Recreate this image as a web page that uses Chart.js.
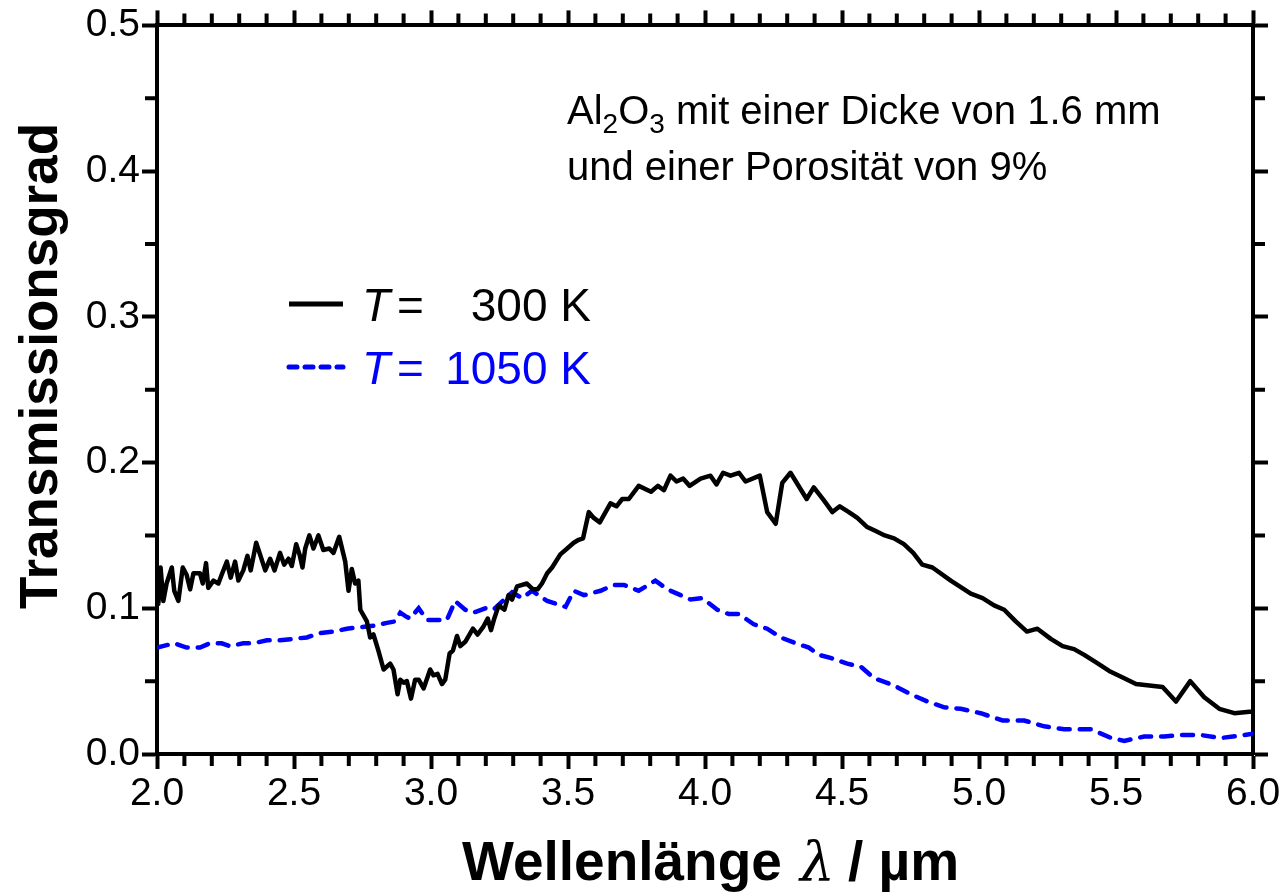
<!DOCTYPE html>
<html>
<head>
<meta charset="utf-8">
<script src="https://cdn.jsdelivr.net/npm/chart.js@4.4.1/dist/chart.umd.min.js"></script>
<style>
  body { margin: 0; background: #fff; }
</style>
</head>
<body>
<canvas id="transChart" width="1284" height="896"></canvas>
<script>
// Wellenlaenge in um, Transmissionsgrad
var wl300 = [2.000, 2.005, 2.013, 2.023, 2.035, 2.054, 2.063, 2.078, 2.094, 2.108, 2.121, 2.133, 2.157, 2.167, 2.179, 2.187,
  2.206, 2.224, 2.236, 2.255, 2.269, 2.285, 2.297, 2.315, 2.330, 2.342, 2.362, 2.376, 2.395, 2.413, 2.429, 2.449,
  2.464, 2.480, 2.492, 2.508, 2.520, 2.531, 2.541, 2.556, 2.571, 2.589, 2.607, 2.629, 2.644, 2.665, 2.687, 2.699,
  2.711, 2.723, 2.735, 2.742, 2.766, 2.778, 2.790, 2.808, 2.827, 2.851, 2.863, 2.878, 2.888, 2.900, 2.912, 2.927,
  2.942, 2.955, 2.973, 2.997, 3.009, 3.024, 3.040, 3.052, 3.068, 3.080, 3.095, 3.107, 3.125, 3.153, 3.170, 3.190,
  3.207, 3.219, 3.231, 3.247, 3.268, 3.283, 3.296, 3.314, 3.350, 3.372, 3.389, 3.405, 3.424, 3.442, 3.472, 3.497,
  3.521, 3.539, 3.555, 3.576, 3.594, 3.616, 3.655, 3.677, 3.698, 3.722, 3.758, 3.803, 3.828, 3.850, 3.874, 3.896,
  3.920, 3.944, 3.984, 4.020, 4.042, 4.066, 4.093, 4.124, 4.148, 4.200, 4.227, 4.258, 4.282, 4.312, 4.371, 4.397,
  4.434, 4.465, 4.492, 4.525, 4.556, 4.590, 4.623, 4.656, 4.690, 4.726, 4.760, 4.793, 4.830, 4.897, 4.970, 5.013,
  5.055, 5.092, 5.134, 5.175, 5.213, 5.262, 5.305, 5.347, 5.384, 5.426, 5.475, 5.530, 5.573, 5.670, 5.719, 5.771,
  5.822, 5.877, 5.932, 5.987, 6.000];
var t300 = [0.122, 0.103, 0.128, 0.105, 0.117, 0.128, 0.112, 0.105, 0.128, 0.123, 0.113, 0.124, 0.124, 0.117, 0.131, 0.114,
  0.119, 0.117, 0.123, 0.132, 0.121, 0.132, 0.119, 0.126, 0.136, 0.126, 0.145, 0.137, 0.126, 0.134, 0.126, 0.138,
  0.130, 0.134, 0.129, 0.144, 0.137, 0.128, 0.141, 0.150, 0.141, 0.150, 0.140, 0.141, 0.138, 0.149, 0.132, 0.112,
  0.127, 0.117, 0.119, 0.099, 0.091, 0.080, 0.082, 0.071, 0.058, 0.062, 0.058, 0.041, 0.051, 0.049, 0.050, 0.038,
  0.051, 0.051, 0.045, 0.058, 0.054, 0.055, 0.048, 0.051, 0.069, 0.071, 0.081, 0.074, 0.077, 0.086, 0.082, 0.087,
  0.093, 0.085, 0.093, 0.102, 0.099, 0.109, 0.106, 0.115, 0.117, 0.113, 0.113, 0.117, 0.124, 0.128, 0.137, 0.141,
  0.145, 0.147, 0.148, 0.166, 0.162, 0.159, 0.172, 0.170, 0.175, 0.175, 0.184, 0.180, 0.184, 0.181, 0.191, 0.187,
  0.189, 0.184, 0.189, 0.191, 0.185, 0.193, 0.191, 0.193, 0.187, 0.191, 0.166, 0.158, 0.186, 0.193, 0.175, 0.183,
  0.174, 0.166, 0.170, 0.166, 0.162, 0.156, 0.153, 0.150, 0.148, 0.144, 0.138, 0.130, 0.128, 0.119, 0.110, 0.107,
  0.102, 0.099, 0.091, 0.084, 0.086, 0.079, 0.074, 0.072, 0.068, 0.063, 0.057, 0.052, 0.048, 0.046, 0.036, 0.050,
  0.039, 0.031, 0.028, 0.029, 0.029];

var wl1050 = [2.000, 2.063, 2.108, 2.157, 2.193, 2.236, 2.267, 2.315, 2.352, 2.401, 2.449, 2.498, 2.547, 2.595, 2.644, 2.693,
  2.742, 2.790, 2.839, 2.869, 2.888, 2.912, 2.924, 2.955, 2.985, 3.058, 3.088, 3.125, 3.155, 3.198, 3.228, 3.296,
  3.332, 3.369, 3.424, 3.491, 3.521, 3.558, 3.619, 3.667, 3.704, 3.758, 3.819, 3.862, 3.911, 3.947, 3.990, 4.045,
  4.087, 4.124, 4.178, 4.227, 4.276, 4.331, 4.379, 4.416, 4.458, 4.519, 4.568, 4.617, 4.690, 4.751, 4.812, 4.873,
  4.933, 5.006, 5.086, 5.165, 5.238, 5.311, 5.408, 5.482, 5.530, 5.603, 5.676, 5.737, 5.810, 5.883, 5.968, 6.000];
var t1050 = [0.073, 0.076, 0.073, 0.073, 0.076, 0.076, 0.074, 0.076, 0.076, 0.078, 0.078, 0.079, 0.080, 0.083, 0.084, 0.086,
  0.087, 0.088, 0.090, 0.091, 0.097, 0.094, 0.093, 0.100, 0.092, 0.092, 0.105, 0.099, 0.097, 0.100, 0.099, 0.111,
  0.107, 0.112, 0.105, 0.101, 0.112, 0.109, 0.112, 0.116, 0.116, 0.112, 0.119, 0.113, 0.109, 0.106, 0.107, 0.099,
  0.096, 0.096, 0.089, 0.086, 0.080, 0.076, 0.073, 0.068, 0.066, 0.062, 0.060, 0.052, 0.047, 0.041, 0.036, 0.032,
  0.031, 0.028, 0.023, 0.023, 0.019, 0.017, 0.017, 0.011, 0.009, 0.012, 0.012, 0.013, 0.013, 0.011, 0.013, 0.014];

var xMinor = [];
for (var i = 21; i < 60; i++) { if (i % 5 !== 0) xMinor.push(i / 10); }
var yMinor = [0.05, 0.15, 0.25, 0.35, 0.45];

var FONT = "'Liberation Sans', Arial, sans-serif";

function toPoints(xs, ys) {
    return xs.map(function (x, i) { return { x: x, y: ys[i] }; });
}

// kleine Zwischenstriche an allen vier Achsen
var minorTicks = {
    id: 'minorTicks',
    afterDraw: function (chart) {
        var ctx = chart.ctx, a = chart.chartArea;
        var sx = chart.scales.x, sy = chart.scales.y;
        ctx.save();
        ctx.strokeStyle = '#000';
        ctx.lineWidth = 4;
        ctx.beginPath();
        xMinor.forEach(function (v) {
            var px = sx.getPixelForValue(v);
            ctx.moveTo(px, a.bottom); ctx.lineTo(px, a.bottom + 12);
            ctx.moveTo(px, a.top); ctx.lineTo(px, a.top - 12);
        });
        yMinor.forEach(function (v) {
            var py = sy.getPixelForValue(v);
            ctx.moveTo(a.left, py); ctx.lineTo(a.left - 12, py);
            ctx.moveTo(a.right, py); ctx.lineTo(a.right + 12, py);
        });
        ctx.stroke();
        ctx.restore();
    }
};

// Achsentitel, Beschriftung und Legende
var texts = {
    id: 'texts',
    afterDraw: function (chart) {
        var ctx = chart.ctx;
        ctx.save();
        ctx.fillStyle = '#000';
        ctx.textBaseline = 'alphabetic';

        // y title
        ctx.save();
        ctx.translate(57, 366);
        ctx.rotate(-Math.PI / 2);
        ctx.textAlign = 'center';
        ctx.font = 'bold 53px ' + FONT;
        ctx.fillText('Transmissionsgrad', 0, 0);
        ctx.restore();

        // x title
        ctx.textAlign = 'left';
        ctx.font = 'bold 55px ' + FONT;
        ctx.fillText('Wellenlänge', 462, 880);
        ctx.font = 'italic 55px ' + "'DejaVu Serif', serif";
        ctx.fillText('λ', 800, 880);
        ctx.font = 'bold 55px ' + FONT;
        ctx.fillText('/ µm', 848, 880);

        // annotation
        var x = 567;
        ctx.font = '40px ' + FONT;
        ctx.fillText('Al', x, 124); x += ctx.measureText('Al').width;
        ctx.font = '28px ' + FONT;
        ctx.fillText('2', x, 133); x += ctx.measureText('2').width;
        ctx.font = '40px ' + FONT;
        ctx.fillText('O', x, 124); x += ctx.measureText('O').width;
        ctx.font = '28px ' + FONT;
        ctx.fillText('3', x, 133); x += ctx.measureText('3').width;
        ctx.font = '40px ' + FONT;
        ctx.fillText(' mit einer Dicke von 1.6 mm', x, 124);
        ctx.fillText('und einer Porosität von 9%', 567, 180);

        // legend
        var rows = [
            { label: '300 K', color: '#000', dash: [], y: 321 },
            { label: '1050 K', color: '#0000ff', dash: [8, 8], y: 384 }
        ];
        rows.forEach(function (r) {
            ctx.strokeStyle = r.color;
            ctx.fillStyle = r.color;
            ctx.lineWidth = 5;
            ctx.lineCap = r.dash.length ? 'round' : 'butt';
            ctx.setLineDash(r.dash);
            ctx.beginPath();
            ctx.moveTo(289, r.y - 17);
            ctx.lineTo(343, r.y - 17);
            ctx.stroke();
            ctx.setLineDash([]);
            ctx.textAlign = 'left';
            ctx.font = 'italic 46px ' + FONT;
            ctx.fillText('T', 362, r.y);
            ctx.font = '46px ' + FONT;
            ctx.fillText('=', 397, r.y);
            ctx.textAlign = 'right';
            ctx.fillText(r.label, 591, r.y);
        });
        ctx.restore();
    }
};

var tickFont = { family: FONT, size: 39 };
var gridOpts = { drawOnChartArea: false, tickLength: 15, tickWidth: 4, tickColor: '#000' };
var borderOpts = { display: true, width: 4, color: '#000' };

var ctx = document.getElementById('transChart').getContext('2d');
var chart = new Chart(ctx, {
    type: 'line',
    data: {
        datasets: [{
            label: 'T = 300 K',
            data: toPoints(wl300, t300),
            borderColor: '#000',
            borderWidth: 4.5,
            pointRadius: 0,
            tension: 0,
            borderJoinStyle: 'round'
        }, {
            label: 'T = 1050 K',
            data: toPoints(wl1050, t1050),
            borderColor: '#0000ff',
            borderWidth: 4.5,
            borderDash: [11, 10],
            borderCapStyle: 'round',
            pointRadius: 0,
            tension: 0
        }]
    },
    options: {
        responsive: false,
        animation: false,
        layout: { padding: 0 },
        plugins: { legend: { display: false }, tooltip: { enabled: false } },
        scales: {
            x: {
                type: 'linear', position: 'bottom', min: 2, max: 6,
                ticks: { stepSize: 0.5, color: '#000', font: tickFont, padding: 2, maxRotation: 0,
                    callback: function (v) { return v.toFixed(1); } },
                grid: gridOpts, border: borderOpts,
                afterFit: function (s) { s.height = 896 - 754; }
            },
            x2: {
                type: 'linear', position: 'top', min: 2, max: 6,
                ticks: { stepSize: 0.5, display: false },
                grid: gridOpts, border: borderOpts,
                afterFit: function (s) { s.height = 24; }
            },
            y: {
                type: 'linear', position: 'left', min: 0, max: 0.5,
                ticks: { stepSize: 0.1, color: '#000', font: tickFont, padding: 2,
                    callback: function (v) { return v.toFixed(1); } },
                grid: gridOpts, border: borderOpts,
                afterFit: function (s) { s.width = 157; }
            },
            y2: {
                type: 'linear', position: 'right', min: 0, max: 0.5,
                ticks: { stepSize: 0.1, display: false },
                grid: gridOpts, border: borderOpts,
                afterFit: function (s) { s.width = 1284 - 1253; }
            }
        }
    },
    plugins: [minorTicks, texts]
});
</script>
</body>
</html>
